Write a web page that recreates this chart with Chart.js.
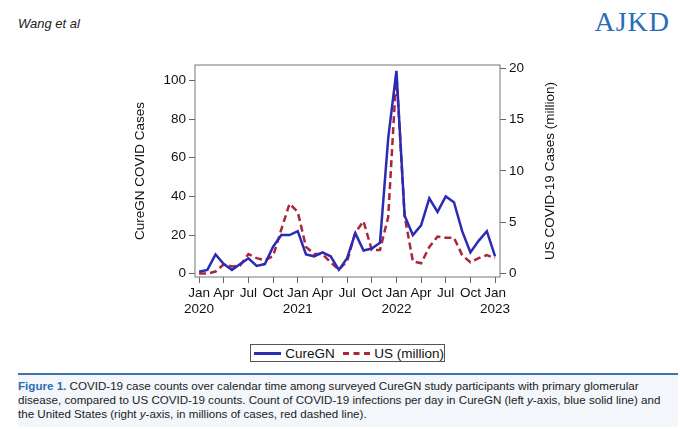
<!DOCTYPE html>
<html>
<head>
<meta charset="utf-8">
<script src="https://cdn.jsdelivr.net/npm/chart.js@4"></script>
<style>
  body { margin: 0; width: 680px; height: 429px; background: #fff; font-family: 'Liberation Sans', Arial, sans-serif; position: relative; overflow: hidden; }
  #head { position: absolute; left: 18px; top: 16px; font-style: italic; font-size: 13px; color: #222; }
  #logo { position: absolute; right: 10px; top: 6px; font-family: 'Liberation Serif', serif; font-size: 28px; color: #2a6db5; letter-spacing: 1px; }
  #wrap { position: absolute; left: 0; top: 0; width: 680px; height: 330px; }
  #legend { position: absolute; left: 250px; top: 344px; width: 195px; height: 18px; border: 1px solid #555; font-size: 13.5px; color: #111; display: flex; align-items: center; gap: 4px; padding-left: 3px; box-sizing: border-box; white-space: nowrap; }
  .sw { display: inline-block; width: 30px; height: 0; }
  #cap { position: absolute; left: 18px; top: 373px; width: 660px; height: 54px; border-top: 2px solid #3f73ad; background: #f3f6fa; font-size: 11.6px; line-height: 14px; color: #222; padding: 4px 0 0 0; box-sizing: border-box; }
  #cap b { color: #2a6db5; }
</style>
</head>
<body>
<div id="head">Wang et al</div>
<div id="logo">AJKD</div>
<div id="wrap"><canvas id="c"></canvas></div>
<div id="legend">
  <span class="sw" style="border-top:3px solid #2b2bb5"></span>CureGN
  <span class="sw" style="border-top:3px dashed #a8283a;margin-left:4px"></span>US (million)
</div>
<div id="cap"><b>Figure 1.</b> COVID-19 case counts over calendar time among surveyed CureGN study participants with primary glomerular disease, compared to US COVID-19 counts. Count of COVID-19 infections per day in CureGN (left <i>y</i>-axis, blue solid line) and the United States (right <i>y</i>-axis, in millions of cases, red dashed line).</div>
<script>
// monthly, Jan 2020 .. Jan 2023
const months = Array.from({length: 37}, (_, i) => i);
const cureGN = [1, 2, 10, 5, 2, 5, 8, 4, 5, 14, 20, 20,
                22, 10, 9, 11, 9, 2, 8, 21, 12, 13, 16, 70,
                105, 30, 20, 25, 39, 32, 40, 37, 22, 11, 17, 22,
                9];
const usMillion = [0, 0, 0.2, 0.9, 0.7, 0.8, 1.9, 1.5, 1.3, 1.7, 4.3, 6.8,
                   6.0, 2.6, 1.9, 1.9, 1.1, 0.4, 1.2, 4.0, 5.1, 2.3, 2.3, 5.5,
                   19.5, 5.6, 1.2, 1.0, 2.6, 3.6, 3.5, 3.5, 1.8, 1.1, 1.5, 1.8,
                   1.5];
const tickLabels = {0: ['Jan', '2020'], 3: 'Apr', 6: 'Jul', 9: 'Oct', 12: ['Jan', '2021'], 15: 'Apr', 18: 'Jul', 21: 'Oct',
                    24: ['Jan', '2022'], 27: 'Apr', 30: 'Jul', 33: 'Oct', 36: ['Jan', '2023']};

const frame = {
  id: 'frame',
  afterDraw(chart) {
    const {ctx, chartArea: a} = chart;
    ctx.save();
    ctx.strokeStyle = '#777';
    ctx.lineWidth = 1;
    ctx.strokeRect(a.left, a.top, a.right - a.left, a.bottom - a.top);
    // right axis title, reading bottom to top like the left one
    ctx.translate(550, (a.top + a.bottom) / 2);
    ctx.rotate(-Math.PI / 2);
    ctx.fillStyle = '#111';
    ctx.font = "13.5px 'Liberation Sans', Arial, sans-serif";
    ctx.textAlign = 'center';
    ctx.textBaseline = 'middle';
    ctx.fillText('US COVID-19 Cases (million)', 0, 0);
    ctx.restore();
  }
};

const tickFont = {size: 13.5, family: "'Liberation Sans', Arial, sans-serif"};
new Chart(document.getElementById('c'), {
  type: 'line',
  data: {
    datasets: [
      {label: 'CureGN', data: months.map(m => ({x: m, y: cureGN[m]})), yAxisID: 'y',
       borderColor: '#2b2bb5', borderWidth: 2.5, pointRadius: 0, tension: 0},
      {label: 'US (million)', data: months.map(m => ({x: m, y: usMillion[m]})), yAxisID: 'y2',
       borderColor: '#a8283a', borderWidth: 2.5, borderDash: [7, 4], pointRadius: 0, tension: 0}
    ]
  },
  options: {
    responsive: true, maintainAspectRatio: false, animation: false,
    layout: {padding: {left: 130, right: 120, top: 65, bottom: 0}},
    plugins: {legend: {display: false}, tooltip: {enabled: false}},
    scales: {
      x: {type: 'linear', min: -0.5, max: 36.6,
          afterBuildTicks: s => { s.ticks = Object.keys(tickLabels).map(k => ({value: +k})); },
          afterFit: s => { s.height = 53; },
          grid: {drawOnChartArea: false, tickLength: 6, color: '#666'}, border: {display: false},
          ticks: {callback: v => tickLabels[v], font: tickFont, color: '#111', maxRotation: 0, autoSkip: false, padding: 2}},
      y: {position: 'left', min: -1.7, max: 108,
          afterBuildTicks: s => { s.ticks = [0, 20, 40, 60, 80, 100].map(v => ({value: v})); },
          afterFit: s => { s.width = 65; },
          grid: {drawOnChartArea: false, tickLength: 6, color: '#666'}, border: {display: false},
          ticks: {font: tickFont, color: '#111', padding: 3},
          title: {display: true, text: 'CureGN COVID Cases', font: {size: 13.5}, color: '#111', padding: 2}},
      y2: {position: 'right', min: -0.33, max: 20.3,
           afterBuildTicks: s => { s.ticks = [0, 5, 10, 15, 20].map(v => ({value: v})); },
           afterFit: s => { s.width = 60; },
           grid: {drawOnChartArea: false, tickLength: 6, color: '#666'}, border: {display: false},
           ticks: {font: tickFont, color: '#111', padding: 3}}
    }
  },
  plugins: [frame]
});
</script>
</body>
</html>
